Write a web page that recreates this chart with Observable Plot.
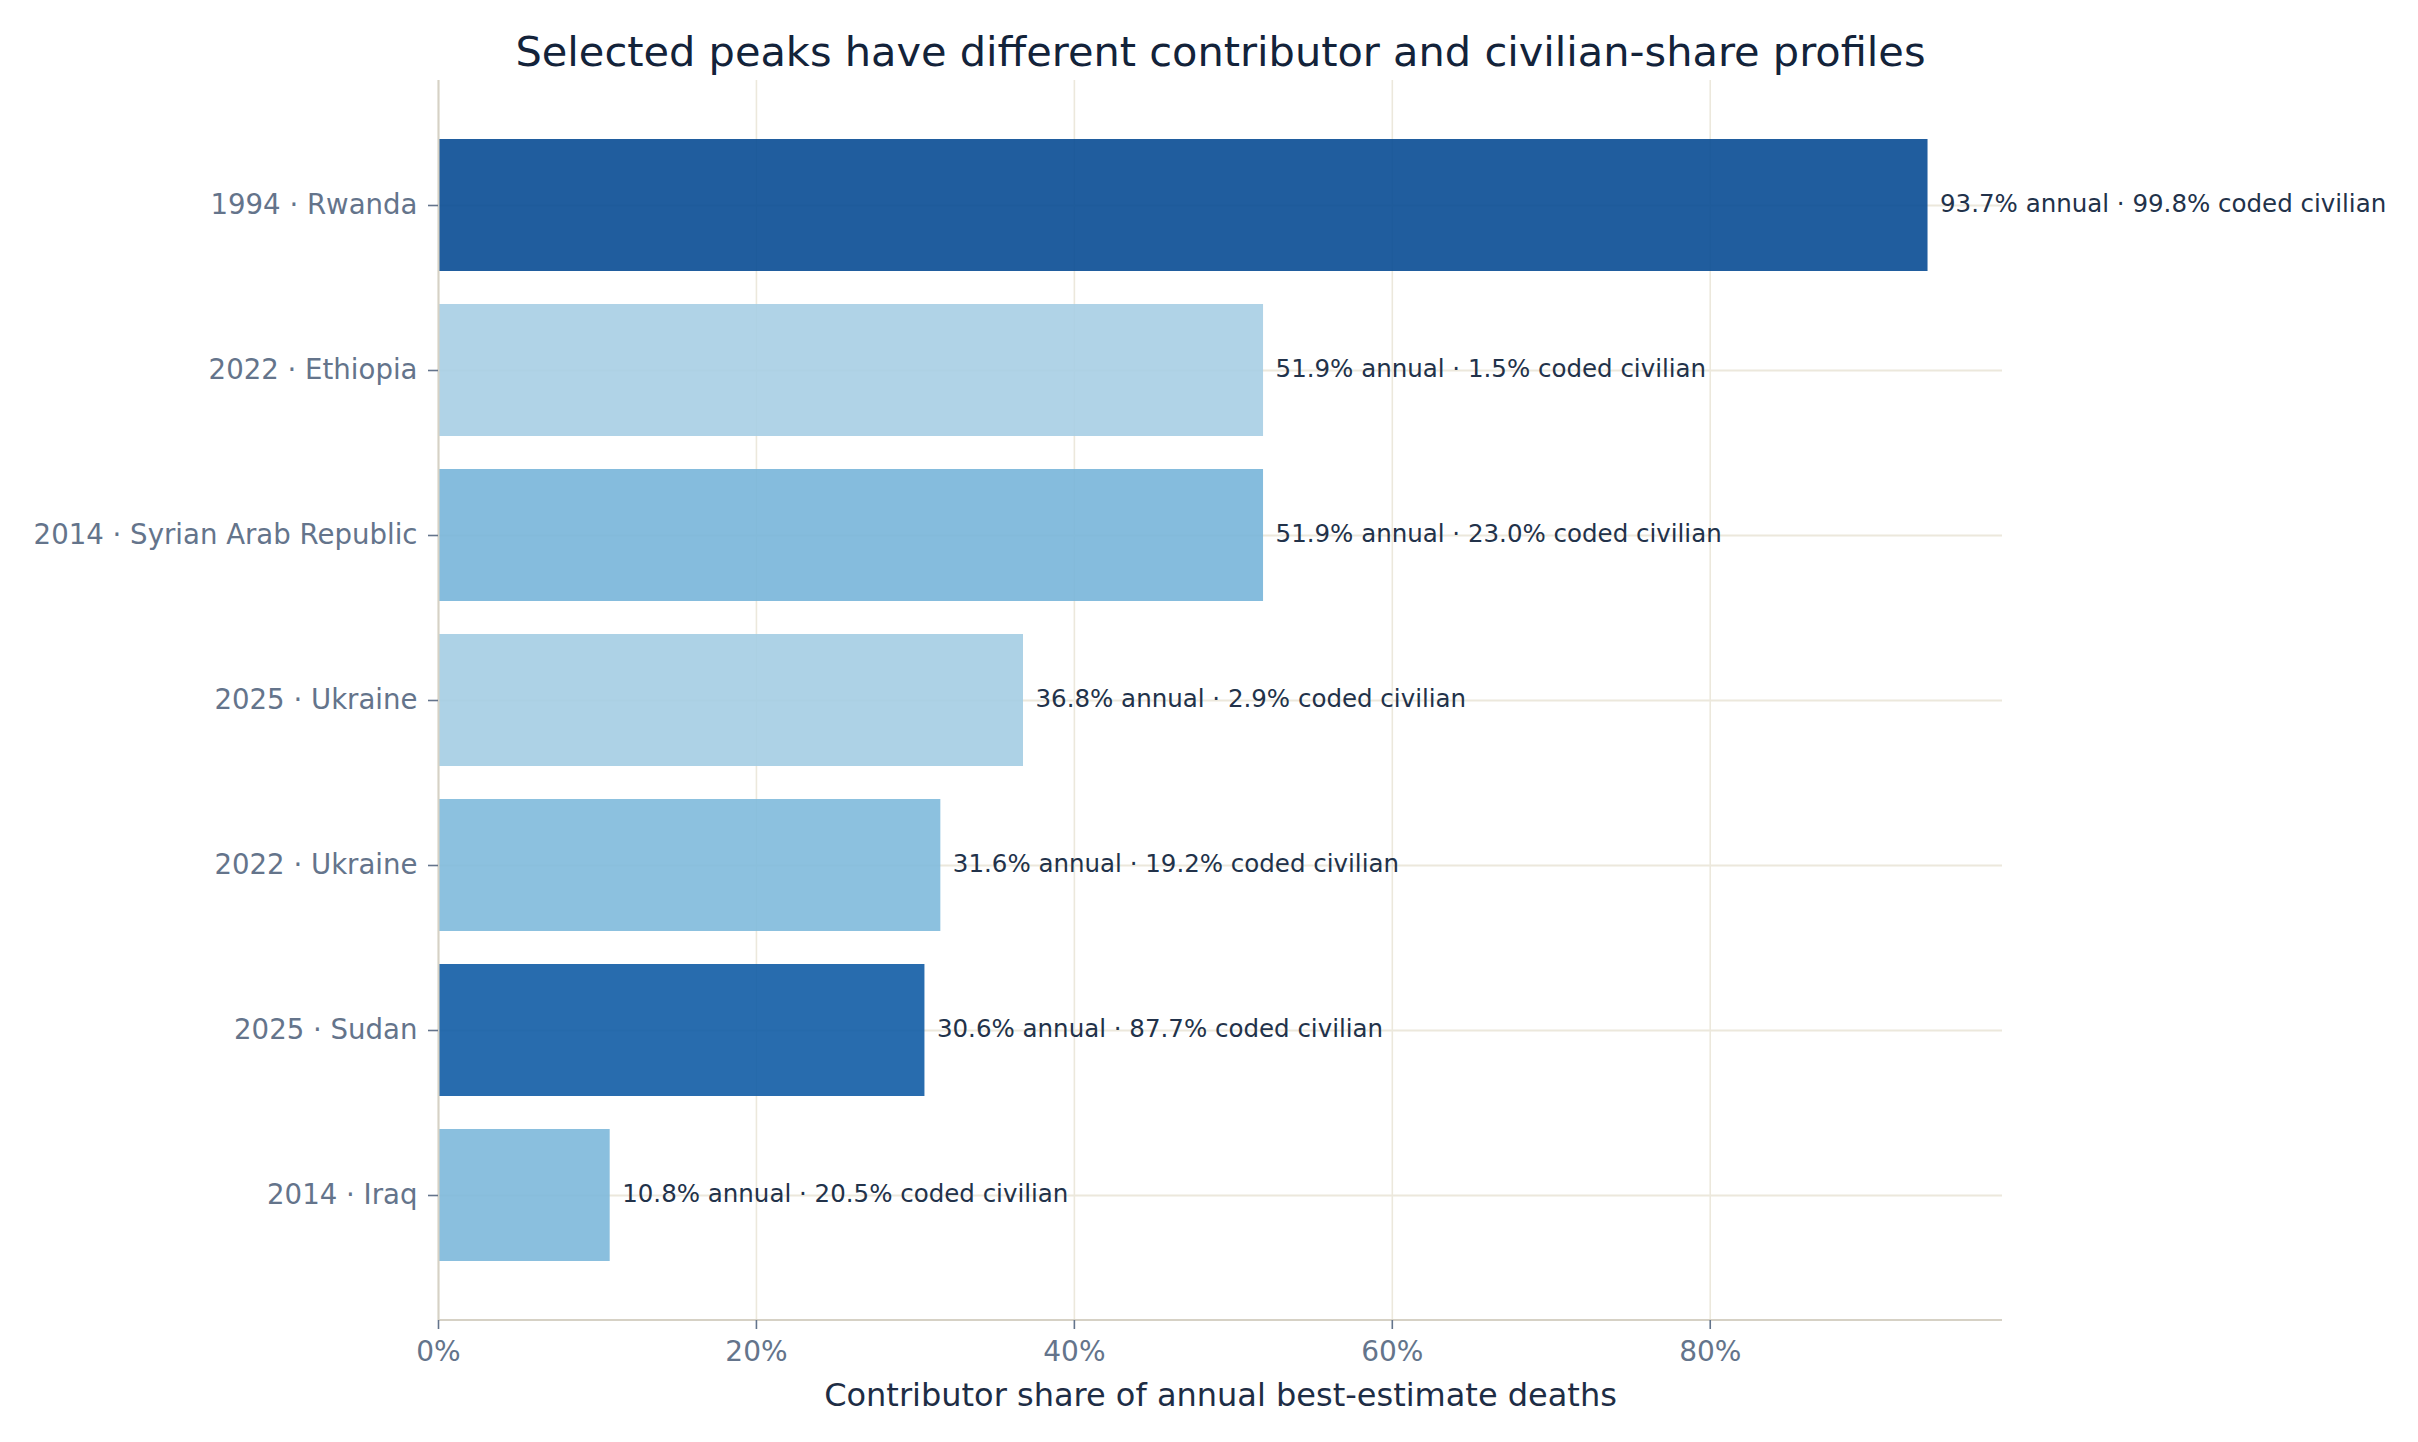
<!DOCTYPE html>
<html>
<head>
<meta charset="utf-8">
<script src="https://cdn.jsdelivr.net/npm/d3@7"></script>
<script src="https://cdn.jsdelivr.net/npm/@observablehq/plot@0.6"></script>
<style>
  html, body { margin: 0; padding: 0; background: #ffffff; }
  #chart svg { display: block; }
</style>
</head>
<body>
<div id="chart"></div>
<script>
// ---- data ----
const years = ["1994", "2022", "2014", "2025", "2022", "2025", "2014"];
const countries = ["Rwanda", "Ethiopia", "Syrian Arab Republic", "Ukraine", "Ukraine", "Sudan", "Iraq"];
const annualShare = [93.7, 51.9, 51.9, 36.8, 31.6, 30.6, 10.8];      // % of annual best-estimate deaths
const civilianShare = [99.8, 1.5, 23.0, 2.9, 19.2, 87.7, 20.5];     // % coded civilian
const xTicks = [0, 20, 40, 60, 80];

const titleText = "Selected peaks have different contributor and civilian-share profiles";
const xLabelText = "Contributor share of annual best-estimate deaths";

// ---- table for the library ----
const rows = years.map((y, i) => ({
  label: `${y} · ${countries[i]}`,
  share: annualShare[i],
  civ: civilianShare[i]
}));
const order = rows.map(d => d.label);

// matplotlib-like "Blues" ramp (piecewise linear through ColorBrewer stops)
const bluesStops = ["#f7fbff","#deebf7","#c6dbef","#9ecae1","#6baed6","#4292c6","#2171b5","#08519c","#08306b"];
const tLo = 0.34, tHi = 0.90;
const colorDomain = bluesStops.map((_, k) => (k / 8 - tLo) / (tHi - tLo) * 100);

const W = 2418, H = 1442;
const mL = 438, mR = 416, mT = 80, mB = 122;
const gridColor = "#ece8dc";
const spineColor = "#d6d1c5";
const tickColor = "#64748b";

const bottomSpine = (index, scales, values, dims) => {
  const line = d3.create("svg:line")
    .attr("x1", dims.marginLeft)
    .attr("x2", dims.width - dims.marginRight)
    .attr("y1", dims.height - dims.marginBottom)
    .attr("y2", dims.height - dims.marginBottom)
    .attr("stroke", spineColor)
    .attr("stroke-width", 2);
  return line.node();
};

const chart = Plot.plot({
  width: W,
  height: H,
  marginLeft: mL,
  marginRight: mR,
  marginTop: mT,
  marginBottom: mB,
  style: { fontFamily: "DejaVu Sans", background: "#ffffff", overflow: "visible" },
  x: { domain: [0, d3.max(annualShare) * 1.05], label: null },
  y: { domain: order, paddingInner: 0.2, paddingOuter: 0.34, label: null },
  color: { type: "linear", domain: colorDomain, range: bluesStops, interpolate: "rgb" },
  marks: [
    Plot.gridX({ ticks: xTicks, stroke: gridColor, strokeOpacity: 1, strokeWidth: 1.6 }),
    Plot.gridY({ stroke: gridColor, strokeOpacity: 1, strokeWidth: 2 }),
    Plot.barX(rows, { x: "share", y: "label", fill: "civ", fillOpacity: 0.9 }),
    Plot.ruleX([0], { stroke: spineColor, strokeWidth: 2 }),
    bottomSpine,
    Plot.axisX({
      ticks: xTicks,
      tickFormat: d => `${d}%`,
      tickSize: 9,
      tickPadding: 12,
      fontSize: 28,
      color: tickColor,
      strokeWidth: 1.6,
      label: null
    }),
    Plot.axisY({
      tickSize: 10,
      tickPadding: 11,
      fontSize: 27.6,
      color: tickColor,
      strokeWidth: 1.6,
      label: null
    }),
    Plot.text(rows, {
      x: "share",
      y: "label",
      text: d => `${d.share.toFixed(1)}% annual · ${d.civ.toFixed(1)}% coded civilian`,
      textAnchor: "start",
      dx: 12,
      dy: -1,
      fontSize: 24.5,
      fill: "#22324a"
    }),
    Plot.text([titleText], {
      frameAnchor: "top",
      lineAnchor: "middle",
      text: d => d,
      dy: -28,
      fontSize: 41.5,
      fill: "#13233a"
    }),
    Plot.text([xLabelText], {
      frameAnchor: "bottom",
      lineAnchor: "middle",
      text: d => d,
      dy: 75,
      fontSize: 32,
      fill: "#1e2d45"
    })
  ]
});

document.getElementById("chart").appendChild(chart);
</script>
</body>
</html>
